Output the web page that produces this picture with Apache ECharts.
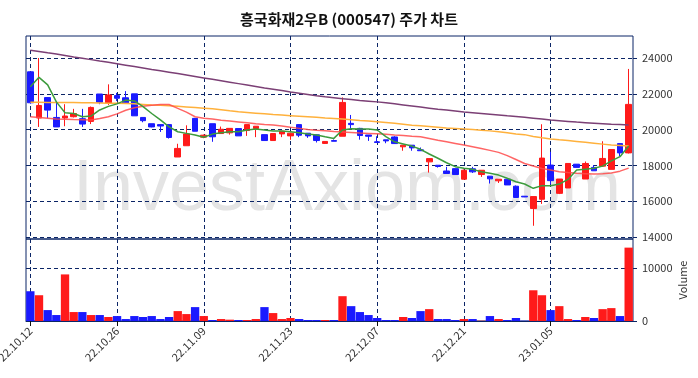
<!DOCTYPE html>
<html>
<head>
<meta charset="utf-8">
<script src="https://cdn.jsdelivr.net/npm/echarts@6/dist/echarts.min.js"></script>
<style>
  html, body { margin: 0; padding: 0; background: #fff; }
  #chart { width: 698px; height: 378px; }
</style>
</head>
<body>
<div id="chart"></div>
<script>
// trading days shown on the chart
const dates = [
  "22.10.12", "22.10.13", "22.10.14", "22.10.17", "22.10.18", "22.10.19", "22.10.20", "22.10.21", "22.10.24", "22.10.25",
  "22.10.26", "22.10.27", "22.10.28", "22.10.31", "22.11.01", "22.11.02", "22.11.03", "22.11.04", "22.11.07", "22.11.08",
  "22.11.09", "22.11.10", "22.11.11", "22.11.14", "22.11.15", "22.11.16", "22.11.17", "22.11.18", "22.11.21", "22.11.22",
  "22.11.23", "22.11.24", "22.11.25", "22.11.28", "22.11.29", "22.11.30", "22.12.01", "22.12.02", "22.12.05", "22.12.06",
  "22.12.07", "22.12.08", "22.12.09", "22.12.12", "22.12.13", "22.12.14", "22.12.15", "22.12.16", "22.12.19", "22.12.20",
  "22.12.21", "22.12.22", "22.12.23", "22.12.26", "22.12.27", "22.12.28", "22.12.29", "23.01.02", "23.01.03", "23.01.04",
  "23.01.05", "23.01.06", "23.01.09", "23.01.10", "23.01.11", "23.01.12", "23.01.13", "23.01.16", "23.01.17", "23.01.18"
];

const open = [
  23230, 20650, 21790, 20680, 20650, 20720, 20610, 20460, 21990, 21490,
  21900, 21780, 22000, 20680, 20330, 20280, 20280, 18470, 19100, 20630,
  19580, 20330, 19780, 19820, 20060, 19950, 20060, 19720, 19390, 19760,
  19650, 20280, 19800, 19710, 19230, 19390, 19630, 20350, 20070, 19700,
  19320, 19430, 19590, 19040, 19130, 18870, 18200, 18010, 17690, 17820,
  17230, 17810, 17490, 17400, 17140, 17230, 16840, 16280, 15590, 16110,
  18020, 16440, 16740, 18070, 17240, 17890, 17960, 17780, 19220, 18700
];
const close = [
  21500, 21350, 21090, 20150, 20760, 20900, 20310, 21240, 21530, 21940,
  21750, 21500, 20770, 20500, 20150, 20200, 19560, 18950, 19760, 19910,
  19690, 19600, 20020, 20070, 19650, 20280, 20190, 19390, 19780, 19910,
  19800, 19690, 19650, 19390, 19340, 19350, 21520, 20280, 19670, 19630,
  19280, 19370, 19220, 19130, 18980, 18820, 18380, 17940, 17550, 17490,
  17730, 17640, 17730, 17250, 17230, 16910, 16210, 16240, 16260, 18410,
  17150, 17240, 18110, 17890, 18110, 17700, 18390, 18890, 18700, 21410
];
const low = [
  21450, 20150, 20650, 20150, 20190, 20680, 20150, 20310, 21420, 21380,
  21600, 21490, 20770, 20410, 20130, 19870, 19500, 18470, 19100, 19910,
  19520, 19320, 19760, 19720, 19650, 19650, 19580, 19390, 19390, 19580,
  19430, 19580, 19540, 19280, 19200, 19350, 19630, 20040, 19440, 19370,
  19280, 19240, 19200, 18820, 18820, 18820, 17600, 17880, 17550, 17490,
  17230, 17580, 17360, 16990, 17020, 16910, 16210, 16230, 14630, 15850,
  16940, 16400, 16740, 17890, 17240, 17700, 17940, 17780, 18520, 18670
];
const high = [
  23250, 24000, 21800, 21600, 21420, 21160, 21160, 21290, 21990, 22530,
  22050, 22150, 22000, 20680, 20330, 20300, 20300, 19210, 20240, 20650,
  19720, 20330, 20170, 20070, 20060, 20280, 20190, 19720, 19780, 19910,
  19840, 20300, 19800, 19720, 19340, 19450, 21800, 20820, 20100, 19700,
  19630, 19430, 19630, 19130, 19130, 19000, 18380, 18010, 17920, 17820,
  17770, 17920, 17730, 17400, 17230, 17270, 16880, 16290, 16260, 20300,
  18760, 17240, 18110, 18070, 18220, 18020, 19350, 18890, 19220, 23390
];

const volume = [
  5590, 4840, 2050, 1120, 8750, 1680, 1680, 1120, 1120, 750,
  930, 370, 930, 750, 930, 370, 750, 1860, 1300, 2610,
  930, 190, 370, 250, 190, 190, 370, 2610, 1490, 370,
  560, 370, 190, 190, 190, 190, 4660, 2790, 1680, 1120,
  560, 190, 190, 750, 560, 1860, 2230, 370, 370, 190,
  370, 370, 50, 930, 370, 190, 560, 50, 5770, 4840,
  2050, 2790, 370, 190, 750, 560, 2230, 2420, 930, 13780
];

// moving averages
const ma5 = [
  22400, 22920, 22500, 21550, 20940, 20900, 20720, 20760, 21100, 21300,
  21440, 21650, 21600, 21280, 20900, 20540, 20150, 19880, 19790, 19700,
  19570, 19750, 19830, 19880, 19880, 19980, 20030, 19980, 19920, 19920,
  19880, 19830, 19750, 19700, 19600, 19510, 19980, 20050, 20030, 20030,
  19980, 19610, 19320, 19200, 19080, 18900, 18640, 18400, 18150, 17930,
  17840, 17780, 17650, 17560, 17460, 17280, 17090, 16960, 16720, 16870,
  16870, 16960, 17220, 17740, 17780, 17840, 17960, 18250, 18490, 19080
];
const ma20 = [
  20720, 20680, 20640, 20600, 20580, 20560, 20550, 20540, 20620, 20720,
  20880, 21080, 21220, 21310, 21360, 21400, 21400, 21190, 20980, 20720,
  20640, 20590, 20530, 20480, 20430, 20380, 20330, 20290, 20260, 20200,
  20130, 20070, 20010, 19960, 19940, 19900, 19870, 19840, 19810, 19790,
  19770, 19740, 19700, 19670, 19630, 19600, 19510, 19410, 19320, 19230,
  19140, 19040, 18940, 18840, 18730, 18550, 18330, 18110, 17970, 17830,
  17750, 17650, 17600, 17560, 17540, 17520, 17540, 17580, 17680, 17850
];
const ma60 = [
  21530, 21530, 21520, 21520, 21510, 21510, 21500, 21500, 21490, 21480,
  21470, 21460, 21440, 21410, 21380, 21360, 21330, 21300, 21270, 21240,
  21200, 21160, 21110, 21050, 21000, 20960, 20920, 20880, 20840, 20810,
  20780, 20750, 20720, 20690, 20650, 20620, 20590, 20550, 20510, 20480,
  20440, 20400, 20350, 20300, 20250, 20210, 20170, 20130, 20090, 20060,
  20030, 20000, 19970, 19930, 19880, 19820, 19760, 19720, 19620, 19540,
  19480, 19430, 19390, 19340, 19290, 19240, 19190, 19140, 19110, 19080
];
const ma120 = [
  24440, 24370, 24290, 24220, 24140, 24060, 23990, 23910, 23830, 23760,
  23680, 23600, 23520, 23440, 23360, 23290, 23210, 23130, 23050, 22970,
  22890, 22810, 22730, 22650, 22570, 22490, 22410, 22330, 22260, 22180,
  22100, 22030, 21960, 21890, 21830, 21780, 21730, 21680, 21630, 21590,
  21550, 21500, 21440, 21380, 21320, 21260, 21200, 21140, 21090, 21040,
  20980, 20940, 20900, 20860, 20820, 20770, 20730, 20690, 20640, 20590,
  20540, 20500, 20460, 20420, 20390, 20360, 20330, 20300, 20280, 20260
];

const priceTicks = [14000, 16000, 18000, 20000, 22000, 24000];
const volumeTicks = [0, 10000];

const UP = "#ff1a1a";
const DOWN = "#1a1aff";
const NAVY = "#0b2566";
const FONT = "'Noto Sans CJK KR', 'Noto Sans', sans-serif";

const chart = echarts.init(document.getElementById("chart"));

const gridDash = {
  show: true,
  interval: 9,
  alignWithLabel: true,
  lineStyle: { color: NAVY, type: [4, 3], width: 1 },
};

chart.setOption({
  animation: false,
  textStyle: { fontFamily: FONT },
  title: {
    text: "흥국화재2우B (000547) 주가 차트",
    left: "center",
    top: 7,
    textStyle: { fontSize: 15, fontWeight: "bold", color: "#111", fontFamily: FONT },
  },
  graphic: [
    {
      type: "text",
      z: -10,
      style: {
        text: "InvestAxiom.com",
        x: 347,
        y: 190,
        textAlign: "center",
        textVerticalAlign: "middle",
        font: "72px 'Liberation Sans', Arial, sans-serif",
        fill: "#e4e4e4",
      },
    },
  ],
  grid: [
    { left: 26, right: 65, top: 36, height: 203, outerBoundsMode: "none", show: true, borderColor: NAVY, borderWidth: 1 },
    { left: 26, right: 65, top: 239, height: 82, outerBoundsMode: "none", show: true, borderColor: NAVY, borderWidth: 1 },
  ],
  xAxis: [
    {
      type: "category",
      gridIndex: 0,
      data: dates,
      boundaryGap: true,
      axisLine: { show: false },
      axisTick: { show: false },
      axisLabel: { show: false },
      splitLine: gridDash,
    },
    {
      type: "category",
      gridIndex: 1,
      data: dates,
      boundaryGap: true,
      axisLine: { show: true, lineStyle: { color: NAVY } },
      axisTick: { show: true, interval: 9, alignWithLabel: true, length: 5, lineStyle: { color: "#111" } },
      axisLabel: { interval: 9, rotate: 45, fontSize: 11, color: "#333", margin: 8 },
      splitLine: gridDash,
    },
  ],
  yAxis: [
    {
      type: "value",
      gridIndex: 0,
      position: "right",
      min: 13890,
      max: 25230,
      axisLine: { show: false },
      axisTick: { show: true, length: 4, customValues: priceTicks, lineStyle: { color: NAVY } },
      axisLabel: { customValues: priceTicks, formatter: (v) => String(v), fontSize: 11, color: "#333", margin: 9 },
      splitLine: { show: true, lineStyle: { color: NAVY, type: [4, 3], width: 1 } },
    },
    {
      type: "value",
      gridIndex: 1,
      position: "right",
      min: 0,
      max: 15400,
      name: "Volume",
      nameLocation: "middle",
      nameGap: 44,
      nameMoveOverlap: false,
      nameRotate: 90,
      nameTextStyle: { fontSize: 11, color: "#333" },
      axisLine: { show: false },
      axisTick: { show: true, length: 4, customValues: volumeTicks, lineStyle: { color: NAVY } },
      axisLabel: { customValues: volumeTicks, formatter: (v) => String(v), fontSize: 11, color: "#333", margin: 9 },
      splitLine: { show: true, lineStyle: { color: NAVY, type: [4, 3], width: 1 } },
    },
  ],
  series: [
    {
      name: "price",
      type: "candlestick",
      xAxisIndex: 0,
      yAxisIndex: 0,
      barWidth: "70%",
      data: dates.map((d, i) => [open[i], close[i], low[i], high[i]]),
      itemStyle: { color: UP, color0: DOWN, borderColor: UP, borderColor0: DOWN, borderWidth: 1 },
    },
    {
      name: "MA120",
      type: "line",
      data: ma120,
      showSymbol: false,
      lineStyle: { color: "#7b3f75", width: 1.5 },
    },
    {
      name: "MA60",
      type: "line",
      data: ma60,
      showSymbol: false,
      lineStyle: { color: "#ffb13c", width: 1.5 },
    },
    {
      name: "MA20",
      type: "line",
      data: ma20,
      showSymbol: false,
      lineStyle: { color: "#ff4a4a", width: 1.5, opacity: 0.85 },
    },
    {
      name: "MA5",
      type: "line",
      data: ma5,
      showSymbol: false,
      lineStyle: { color: "#3c9b3c", width: 1.5 },
    },
    {
      name: "Volume",
      type: "bar",
      xAxisIndex: 1,
      yAxisIndex: 1,
      barWidth: "96%",
      data: volume.map((v, i) => ({
        value: v,
        itemStyle: { color: close[i] >= open[i] ? UP : DOWN },
      })),
    },
  ],
});
</script>
</body>
</html>
